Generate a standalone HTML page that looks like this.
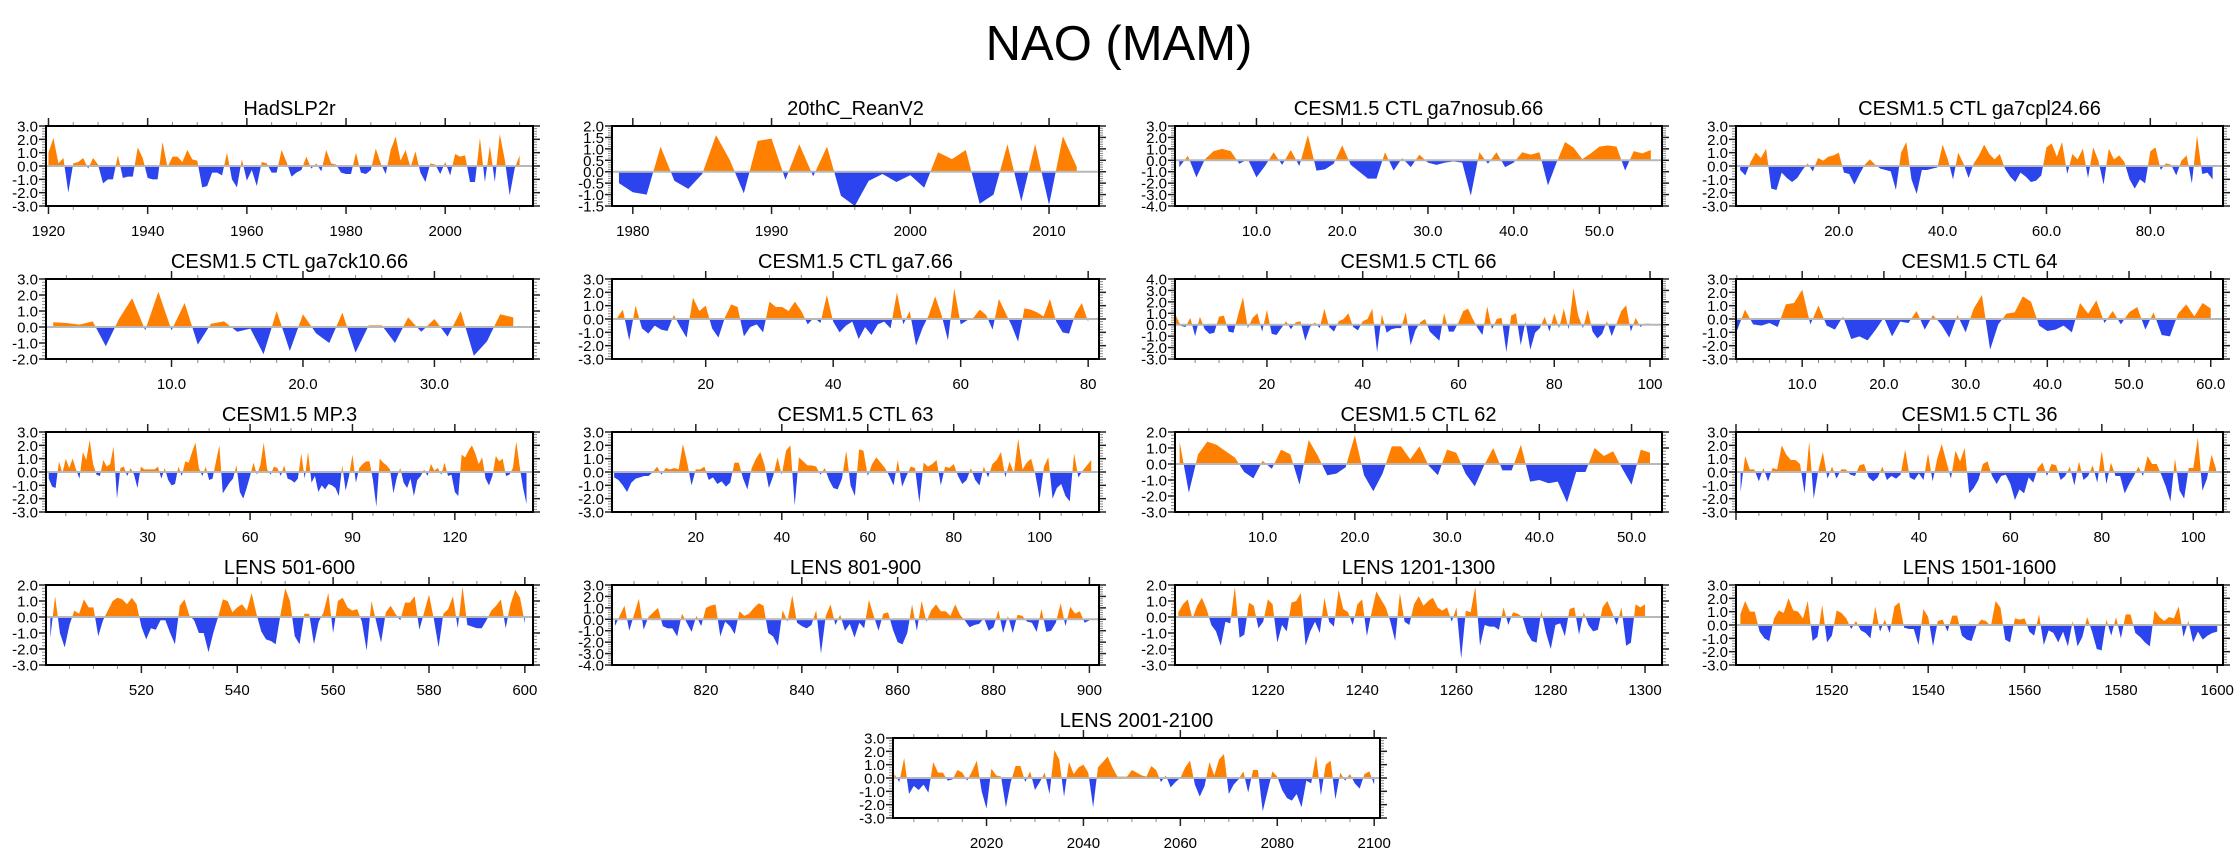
<!DOCTYPE html>
<html><head><meta charset="utf-8"><title>NAO (MAM)</title>
<style>
html,body{margin:0;padding:0;background:#fff;}
svg{display:block;font-family:"Liberation Sans",Arial,sans-serif;}
</style></head>
<body>
<svg id="chart" width="2238" height="856" viewBox="0 0 2238 856" xmlns="http://www.w3.org/2000/svg">
<text x="1119" y="60" font-size="49" text-anchor="middle" fill="#000">NAO (MAM)</text>
</svg>
<script>
// ---- data arrays ----
const titles = ["HadSLP2r","20thC_ReanV2","CESM1.5 CTL ga7nosub.66","CESM1.5 CTL ga7cpl24.66",
"CESM1.5 CTL ga7ck10.66","CESM1.5 CTL ga7.66","CESM1.5 CTL 66","CESM1.5 CTL 64",
"CESM1.5 MP.3","CESM1.5 CTL 63","CESM1.5 CTL 62","CESM1.5 CTL 36",
"LENS 501-600","LENS 801-900","LENS 1201-1300","LENS 1501-1600","LENS 2001-2100"];
const startX = [1920,1979,1,1,1,6,1,2,1,1,1,1,501,801,1201,1501,2001];
const xMinArr = [1919.5,1978.5,0.5,0.2,0.45,5.3,0.8,1.9,0.2,0.5,0.5,0.0,500.1,800.4,1200.3,1500.1,2000.7];
const xMaxArr = [2017.7,2013.6,57.3,94.0,37.5,81.7,102.5,61.5,142.9,113.8,53.3,106.5,601.7,902.0,1303.6,1601.2,2101.2];
const yMinArr = [-3,-1.5,-4,-3,-2,-3,-3,-3,-3,-3,-3,-3,-3,-4,-3,-3,-3];
const yMaxArr = [3,2,3,3,3,3,4,3,3,3,2,3,2,3,2,3,3];
const yStepArr = [1,0.5,1,1,1,1,1,1,1,1,1,1,1,1,1,1,1];
const xTickStart = [1920,1980,10,20,10,20,20,10,30,20,10,20,520,820,1220,1520,2020];
const xTickStep = [20,10,10,20,10,20,20,10,30,20,10,20,20,20,20,20,20];
const xTickDecimal = [false,false,true,true,true,false,false,true,false,false,true,false,false,false,false,false,false];

const s0 = [1.0,2.1,0.2,0.6,-2.0,0.2,0.3,0.6,-0.2,0.6,0.1,-1.3,-1.0,-1.0,0.8,-0.9,-0.8,-0.8,1.4,0.6,-0.9,-1.0,-1.0,1.8,-0.1,0.7,0.7,0.3,1.2,0.5,0.4,-1.6,-1.5,-0.5,-0.5,-0.7,1.0,-1.0,-1.6,0.5,-1.1,-0.3,-1.5,0.3,0.2,-0.5,-0.5,1.2,0.3,-0.8,-0.5,-0.3,0.7,-0.2,0.2,-0.4,1.2,0.2,0.1,-0.5,-0.6,-0.6,1.0,-0.5,-0.6,-0.3,1.3,0.2,-0.6,1.2,2.2,0.4,1.2,-0.1,1.1,-0.5,-1.2,0.2,0.1,-0.6,0.3,-0.7,0.9,0.7,0.8,-1.2,-1.2,2.1,-1.2,1.5,-1.2,2.4,0.5,-2.2,-0.2,0.8];
const s1 = [-0.5,-0.9,-1.0,1.1,-0.4,-0.75,-0.1,1.6,0.5,-0.95,1.35,1.45,-0.35,1.2,-0.2,1.1,-1.05,-1.5,-0.4,-0.1,-0.45,-0.15,-0.7,0.85,0.55,0.95,-1.4,-1.0,1.2,-1.3,1.2,-1.45,1.55,0.2];
const s2 = [-0.6,0.4,-1.5,0.1,0.8,1.0,0.8,-0.3,0.1,-1.5,-0.5,0.7,-0.4,0.9,-0.5,2.2,-0.9,-0.8,-0.3,1.3,-0.4,-1.0,-1.6,-1.6,0.7,-0.9,0.2,-0.6,0.5,-0.2,-0.4,-0.2,-0.1,-0.2,-3.1,0.7,-0.3,0.7,-0.6,-0.2,0.7,0.5,0.7,-2.2,-0.2,1.6,1.1,0.1,0.6,1.2,1.3,1.2,-0.9,0.8,0.6,0.9];
const s3 = [-0.3,-0.7,0.3,1.0,0.6,1.3,-1.7,-1.8,-0.5,-0.9,-1.2,-0.9,-0.3,0.2,-0.4,0.6,0.4,0.7,0.8,1.0,-0.5,-0.6,-1.4,-0.6,0.1,0.5,0.1,-0.2,-0.3,-0.4,-1.8,1.0,1.8,-1.0,-2.1,-0.3,-0.3,-0.2,-0.1,1.6,0.5,-1.0,1.0,0.2,-0.9,0.2,0.8,1.6,0.9,0.5,0.9,-0.2,-0.8,-1.2,-0.5,-0.8,-1.2,-1.1,-0.7,1.4,1.7,0.7,1.8,-0.6,0.9,0.5,1.3,-0.9,1.4,0.4,-1.4,1.3,0.5,0.8,0.3,-1.0,-1.7,-1.0,-1.3,1.1,1.4,-0.3,0.2,0.1,-0.7,0.4,0.8,-1.3,2.3,-0.6,-0.5,-1.0];
const s4 = [0.3,0.25,0.15,0.35,-1.2,0.5,1.8,-0.2,2.2,-0.2,1.5,-1.1,0.2,0.35,-0.3,-0.1,-1.7,1.0,-1.5,0.8,-0.4,-1.0,0.9,-1.6,0.1,0.1,-1.0,0.6,-0.3,0.5,-0.6,1.0,-1.8,-0.9,0.8,0.6];
const s5 = [0.0,0.7,-1.6,1.0,-0.7,-1.1,-0.5,-0.8,-0.9,0.3,-0.6,-1.4,1.6,0.6,1.0,-0.7,-1.4,0.1,1.1,0.9,-1.3,-0.6,-0.4,-1.0,1.3,0.9,0.9,0.6,1.3,0.6,-0.4,0.1,-0.3,1.8,-0.2,-1.0,-0.5,-0.2,-1.5,-0.6,-1.2,-0.4,-0.2,-0.7,2.0,-0.4,0.6,-2.0,-0.7,0.3,1.7,0.3,-1.6,2.3,-0.4,-0.1,0.1,0.7,0.3,-0.8,1.5,0.5,-0.5,-1.7,0.8,0.7,0.5,0.2,1.5,-0.2,-1.0,-1.1,0.4,1.2,-0.2];
const s6 = [0.8,-0.1,-0.2,0.6,-1.0,0.7,-0.4,-0.8,-0.7,0.7,0.8,-0.6,-0.7,0.9,2.4,-0.3,0.6,1.0,-0.6,1.3,-0.8,-0.9,-0.3,0.3,-0.4,0.2,0.3,-1.4,-0.2,0.2,-0.3,1.4,-0.2,-0.6,0.3,0.5,1.0,-0.2,-0.5,0.3,0.5,1.4,-2.4,0.9,-0.7,-0.4,-0.3,-0.3,1.1,-1.8,-0.5,0.2,0.5,-0.6,-1.0,-1.4,1.0,-0.6,-0.6,0.2,1.2,1.4,0.5,-0.3,-0.9,1.6,-0.4,0.5,0.6,-2.4,0.8,1.0,-1.8,0.3,-2.2,-0.7,-0.3,0.7,-0.6,1.0,-0.3,1.4,-0.4,3.2,0.8,-0.3,1.3,-0.6,-1.2,-0.8,0.3,-1.0,0.1,1.2,1.7,-0.6,0.6,-0.2,0.1,0.1];
const s7 = [-0.9,0.7,-0.4,-0.5,-0.3,-0.6,1.1,1.2,2.2,-0.4,1.0,-0.5,-0.8,0.2,-1.5,-1.3,-1.6,-0.8,0.1,-1.3,-0.2,-0.3,0.6,-0.8,0.3,-0.4,-1.4,0.3,-1.0,0.8,1.8,-2.3,-0.4,0.4,0.5,1.7,1.3,-0.5,-0.9,-0.8,-0.5,-1.0,1.2,0.4,1.4,-0.3,0.6,-0.4,0.5,0.9,-0.8,0.5,-1.2,-1.3,0.4,1.1,0.2,1.2,0.8];
const s8 = [-0.5,-1.1,-1.2,0.8,-0.1,1.0,0.3,1.0,0.2,-0.5,1.5,0.9,2.4,0.6,-0.2,-0.3,0.9,0.4,0.6,1.9,-2.0,0.3,0.4,-0.3,0.3,-0.2,-1.2,0.4,0.2,0.2,0.2,0.2,0.4,-0.5,0.3,-0.6,-1.0,-0.9,0.4,-0.3,0.8,0.7,1.5,2.2,0.3,-0.3,0.4,-0.6,-0.5,0.8,2.0,-1.6,-1.2,-0.8,-0.5,0.5,-1.5,-2.0,-1.2,-0.3,0.7,-0.2,0.5,2.2,0.2,-0.2,0.4,0.3,-0.3,0.5,-0.5,-0.6,-0.8,-0.5,1.4,-0.5,1.5,-0.8,-0.3,-1.5,-1.0,-1.3,-0.9,-1.0,-1.2,-1.8,0.5,-1.4,-0.3,1.3,-0.8,0.3,0.6,0.8,0.8,-0.6,-2.6,1.0,0.7,0.5,0.2,-1.6,-0.4,0.3,-0.8,-1.2,-0.5,-1.8,-0.6,-0.3,0.2,-0.3,0.6,0.1,0.3,-0.2,0.7,-0.3,-0.2,-1.5,-1.8,1.3,1.1,1.6,2.0,1.4,0.6,1.1,-0.5,-1.0,-0.3,1.2,0.8,1.0,-0.3,-0.2,0.3,2.3,0.4,-1.2,-2.4];
const s9 = [-0.4,-0.6,-1.0,-1.5,-0.8,-0.5,-0.4,-0.3,-0.3,0.0,0.4,-0.2,0.3,0.2,0.3,0.2,2.1,0.7,-1.0,0.2,0.2,0.4,-0.6,-0.4,-0.9,-0.7,-1.1,-0.8,0.7,0.7,-0.5,-1.3,0.3,1.0,1.5,0.5,-1.2,-0.3,1.1,-0.2,1.6,2.0,-2.5,1.1,0.8,0.5,0.5,0.4,-0.2,0.3,-0.6,-1.2,-1.3,-0.5,1.6,-1.0,-1.8,1.7,1.6,-0.3,0.6,1.1,0.7,0.3,-0.3,-1.0,0.9,-1.1,-0.3,0.4,0.3,-2.3,0.7,0.4,0.6,0.9,-1.0,0.4,0.3,0.6,-0.3,-0.9,-0.6,0.3,-0.6,-1.0,0.4,-0.4,0.6,0.9,1.5,-0.4,0.8,-0.1,2.5,0.2,0.7,1.0,-0.2,-2.0,0.4,1.1,-2.0,-1.2,-0.9,-1.8,-2.2,1.4,-0.4,0.1,0.5,0.9];
const s10 = [1.4,-1.8,0.6,1.4,1.2,0.8,0.4,-0.5,-0.9,0.2,-0.3,0.9,0.6,-1.3,1.5,0.5,-0.7,-0.6,-0.2,1.8,-0.7,-1.7,-0.6,1.1,1.1,0.3,1.1,-0.1,-0.7,0.9,0.7,-0.6,-1.4,-0.1,1.0,-0.4,-0.4,1.2,-1.1,-1.0,-1.2,-1.1,-2.4,-0.5,-0.5,1.0,0.5,0.8,-0.3,-1.3,0.9,0.7];
const s11 = [-1.5,1.2,0.2,0.2,-0.7,0.3,-0.7,0.3,0.2,2.0,1.3,0.9,0.9,0.6,-1.6,2.3,-2.0,0.1,1.5,-0.5,0.4,-0.5,0.2,0.2,-0.2,-0.3,0.5,0.6,-0.4,-0.7,-0.4,0.4,-0.6,-0.3,-0.5,-0.2,1.7,-0.4,-0.6,-0.1,-0.6,1.4,-0.7,1.0,2.1,0.8,-0.5,1.6,0.8,1.8,-1.6,-1.2,-0.6,0.6,0.8,-0.3,-0.9,-0.3,-0.2,-0.9,-2.1,-1.3,-1.6,-0.4,-0.8,0.3,0.7,-0.3,0.6,0.5,-0.6,-0.3,0.4,-1.0,0.8,-0.6,-0.3,0.5,-0.8,1.6,-0.9,0.7,-0.3,-0.3,-1.6,-0.9,-0.3,0.4,-0.3,1.2,0.6,0.6,-0.2,-1.1,-2.2,1.0,-1.4,-2.0,0.3,0.3,2.6,-1.4,-0.5,1.3,0.2];
const s12 = [-1.3,1.3,-1.0,-1.9,-0.5,0.4,0.2,1.1,0.6,0.6,-1.2,-0.2,0.4,1.0,1.2,1.1,0.8,1.2,0.8,-0.6,-1.4,-0.7,-0.8,-0.2,-0.2,-1.0,-1.7,0.7,1.1,0.1,-0.2,-1.0,-1.0,-2.2,-1.0,0.0,1.1,1.0,0.3,0.6,0.8,0.4,1.5,0.2,-0.9,-1.4,-1.5,-1.7,0.1,1.8,1.0,-1.2,-1.7,0.2,0.2,-1.7,-0.3,0.3,1.5,-1.0,1.0,1.2,0.6,0.4,0.5,-0.3,-2.1,1.0,-0.3,-1.6,0.3,0.7,0.2,-0.2,0.9,0.9,1.3,-0.8,0.3,1.4,-0.1,-1.9,0.2,0.5,1.3,-0.7,1.9,-0.5,-0.6,-0.7,-0.7,-0.2,0.4,0.7,1.1,-0.7,0.8,1.7,1.2,-0.4];
const s13 = [-0.6,0.3,1.2,-1.0,0.4,1.8,-0.9,0.2,0.6,1.0,-0.6,-0.8,-0.8,-1.5,0.5,-0.3,-1.1,0.3,-0.6,1.0,1.2,1.3,-1.5,-0.2,-0.6,-1.3,0.7,0.3,0.5,1.0,1.4,1.2,-1.2,-1.5,-2.3,0.8,-0.2,2.1,-0.3,-0.6,-0.8,-0.5,0.8,-3.0,0.3,1.3,-0.5,0.4,-1.0,-0.4,-1.6,-0.3,-0.8,1.7,0.3,-1.0,0.5,0.6,-0.9,-2.0,-2.2,-1.2,1.3,-1.0,1.6,-0.2,0.8,1.3,0.7,0.7,0.3,1.3,0.4,-0.1,-0.7,-0.5,-0.4,0.1,-1.0,-0.7,0.8,-1.2,0.3,-1.2,0.4,0.3,-0.2,-0.3,-1.1,0.9,-1.1,-1.0,-0.3,1.4,-0.6,1.1,0.5,0.7,-0.3,-0.1];
const s14 = [0.3,0.8,1.1,-0.1,0.7,1.2,0.5,-0.5,-0.9,-1.8,-0.3,-0.4,1.9,-1.3,-1.1,0.9,0.7,-0.7,-0.3,1.1,0.8,-1.6,-0.5,-0.9,0.9,1.0,1.5,-1.8,-0.9,-0.3,-1.0,1.2,-0.3,-0.6,1.7,0.5,0.3,-0.5,0.8,1.1,-1.2,0.3,1.6,1.1,0.6,-0.3,-1.5,1.5,-0.3,-0.5,0.8,1.3,0.7,1.0,1.2,0.6,0.4,0.6,-0.3,0.6,-2.6,0.4,0.3,1.9,-1.8,-0.5,-0.6,-0.6,-0.8,0.6,-0.5,0.3,0.2,0.0,-1.0,-1.5,-1.6,0.4,-1.0,-2.0,-0.5,-0.4,-1.2,0.5,0.6,-1.1,0.3,-0.5,-0.9,-0.8,0.6,1.0,0.3,-0.5,0.6,-1.8,-1.6,0.8,0.6,0.8];
const s15 = [0.8,1.8,1.0,1.0,-0.5,-1.0,-1.2,0.5,1.1,0.9,2.0,1.1,1.0,0.5,1.8,-1.2,-0.9,1.5,-1.3,-0.8,1.1,0.9,0.5,-0.3,0.3,-0.4,-0.6,-1.0,1.4,-0.5,0.4,-0.6,1.4,1.7,-0.2,-0.3,-0.3,-1.5,1.2,0.6,-1.6,0.3,0.4,-0.5,0.7,0.7,-0.8,-1.1,-1.2,-0.1,0.4,0.3,-0.1,1.8,1.3,-1.1,-1.3,0.5,0.4,0.5,-0.5,-0.8,0.8,-1.5,-0.4,-0.6,-1.3,-0.5,-1.6,0.3,-1.6,-0.9,0.6,-0.5,-1.8,-1.9,0.4,-0.8,0.6,-1.0,0.8,0.8,-0.6,-0.9,-1.3,-1.6,1.1,0.6,0.3,0.6,0.5,1.4,-0.9,0.3,-1.3,-0.5,-1.1,-0.8,-0.6,-0.5];
const s16 = [0.3,-0.3,1.5,-1.2,-0.6,-0.9,-0.5,-1.1,1.2,0.4,0.4,-0.2,-0.1,0.6,0.4,-0.2,0.5,1.3,-1.0,-2.3,0.7,0.2,0.1,-2.2,-0.3,0.9,0.9,-0.3,0.5,-0.9,-0.3,0.4,-1.2,2.1,1.4,-1.4,1.2,0.3,0.8,1.0,0.4,-2.2,0.8,1.2,1.6,0.8,0.1,0.1,0.1,0.6,0.4,0.2,0.1,0.9,0.6,-0.3,0.2,-0.7,-0.3,0.0,0.8,1.3,-0.5,-1.4,-0.6,1.2,0.2,1.4,1.8,-1.2,-0.5,-0.1,0.5,-1.1,0.6,0.6,-2.5,-1.0,0.5,0.1,-0.9,-1.5,-1.7,-1.2,-2.2,-0.2,-0.4,1.7,-1.3,1.0,1.3,-1.6,0.4,-0.2,0.3,-0.4,-0.8,0.3,0.5,-0.5];
const series = [s0,s1,s2,s3,s4,s5,s6,s7,s8,s9,s10,s11,s12,s13,s14,s15,s16];

// ---- layout ----
const NS = "http://www.w3.org/2000/svg";
const svg = document.getElementById("chart");
const colLeft = [46, 612, 1175, 1736];
const rowTop = [126, 279, 432, 585, 738];
const BW = 487, BH = 80;
const ORANGE = "#ff8000", BLUE = "#2b44ee";

function mk(tag, attrs, parent) {
  const e = document.createElementNS(NS, tag);
  for (const k in attrs) e.setAttribute(k, attrs[k]);
  (parent || svg).appendChild(e);
  return e;
}
function fmt(v, dec) { return dec ? v.toFixed(1) : String(Math.round(v)); }

for (let p = 0; p < 17; p++) {
  const bx = p < 16 ? colLeft[p % 4] : 893;
  const by = rowTop[Math.floor(p / 4)];
  const xmin = xMinArr[p], xmax = xMaxArr[p], ymin = yMinArr[p], ymax = yMaxArr[p];
  const sx = v => bx + (v - xmin) / (xmax - xmin) * BW;
  const sy = v => by + (ymax - v) / (ymax - ymin) * BH;
  const slug = titles[p].toLowerCase().replace(/[^a-z0-9]+/g, "-").replace(/-+$/, "");
  const g = mk("g", {});
  
  

  const t = mk("text", {x: bx + BW / 2, y: by - 11, "font-size": 20, "text-anchor": "middle", fill: "#000"}, g);
  t.textContent = titles[p];
  
  

  // clip paths
  const y0 = sy(0);
  const cpA = mk("clipPath", {id: "ca" + p}, g);
  mk("rect", {x: bx, y: by, width: BW, height: y0 - by}, cpA);
  const cpB = mk("clipPath", {id: "cb" + p}, g);
  mk("rect", {x: bx, y: y0, width: BW, height: by + BH - y0}, cpB);

  const vals = series[p];
  let d = "M" + sx(startX[p]).toFixed(2) + "," + y0.toFixed(2);
  for (let i = 0; i < vals.length; i++) d += " L" + sx(startX[p] + i).toFixed(2) + "," + sy(vals[i]).toFixed(2);
  d += " L" + sx(startX[p] + vals.length - 1).toFixed(2) + "," + y0.toFixed(2) + " Z";
  const pa = mk("path", {d: d, fill: ORANGE, "clip-path": "url(#ca" + p + ")"}, g);
  
  
  const pb = mk("path", {d: d, fill: BLUE, "clip-path": "url(#cb" + p + ")"}, g);
  
  

  const zl = mk("line", {x1: bx, x2: bx + BW, y1: y0, y2: y0, stroke: "#b8b8b8", "stroke-width": 2}, g);
  
  

  // y ticks
  const ys = yStepArr[p], ymn = ys === 1 ? 0.2 : 0.1;
  for (let v = ymin; v <= ymax + 1e-6; v += ymn) {
    const vv = Math.round(v * 100) / 100;
    const major = Math.abs(vv / ys - Math.round(vv / ys)) < 1e-6;
    const yy = sy(vv), L = major ? 7 : 4;
    mk("line", {x1: bx - L, x2: bx, y1: yy, y2: yy, stroke: major ? "#222" : "#888", "stroke-width": major ? 1.5 : 1}, g);
    mk("line", {x1: bx + BW, x2: bx + BW + L, y1: yy, y2: yy, stroke: major ? "#222" : "#888", "stroke-width": major ? 1.5 : 1}, g);
    if (major) {
      const lab = mk("text", {x: bx - 8, y: yy + 5.5, "font-size": 15, "text-anchor": "end", fill: "#000"}, g);
      lab.textContent = vv.toFixed(1);
      
      
    }
  }
  // x ticks
  const st = xTickStep[p];
  const mstep = st === 10 ? 2 : (st === 30 ? 6 : 5);
  const first = Math.ceil(xmin / mstep) * mstep;
  for (let v = first; v <= xmax + 1e-6; v += mstep) {
    const major = ((v - xTickStart[p]) % st + st) % st === 0;
    const xx = sx(v), L = major ? 8 : 4;
    mk("line", {x1: xx, x2: xx, y1: by - L, y2: by, stroke: major ? "#222" : "#888", "stroke-width": major ? 1.5 : 1}, g);
    mk("line", {x1: xx, x2: xx, y1: by + BH, y2: by + BH + L, stroke: major ? "#222" : "#888", "stroke-width": major ? 1.5 : 1}, g);
    if (major && v >= xTickStart[p]) {
      const lab = mk("text", {x: xx, y: by + BH + 30, "font-size": 15, "text-anchor": "middle", fill: "#000"}, g);
      lab.textContent = fmt(v, xTickDecimal[p]);
      
      
    }
  }
  const box = mk("rect", {x: bx, y: by, width: BW, height: BH, fill: "none", stroke: "#000", "stroke-width": 2}, g);
  
  
}
</script>
</body></html>
